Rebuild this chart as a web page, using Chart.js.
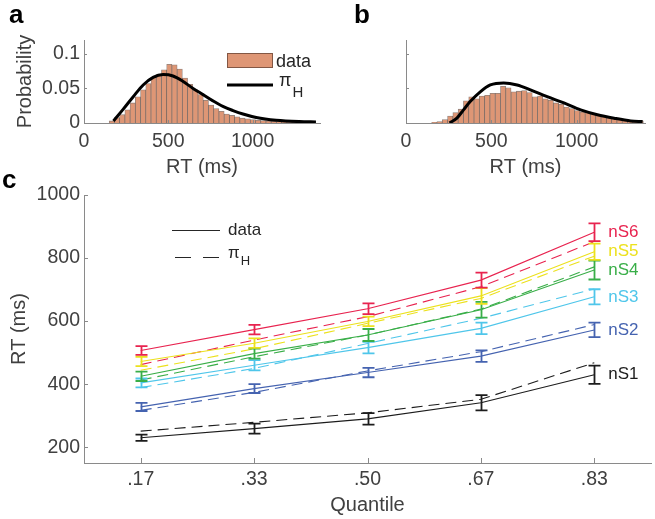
<!DOCTYPE html>
<html><head><meta charset="utf-8">
<script src="https://cdn.jsdelivr.net/npm/chart.js@4.4.1/dist/chart.umd.min.js"></script>
<style>
html,body{margin:0;padding:0;background:#fff;}
#wrap{position:relative;width:655px;height:519px;overflow:hidden;}
#wrap canvas{position:absolute;left:0;top:0;}
</style></head><body>
<div id="wrap">
<canvas id="ca" width="655" height="519"></canvas>
<canvas id="cb" width="655" height="519"></canvas>
<canvas id="cc" width="655" height="519"></canvas>
</div>
<script>
// ---------- DATA ----------
// Panel a: histogram (bin centres in ms, probability) and model density pi_H
const binCentersA = [165,196,227,258,289,320,351,382,413,444,475,506,537,568,599,630,661,692,723,754,785,816,847,878,909,940,971,1002,1033,1064,1095,1126,1157,1188,1219,1250,1281,1312,1343];
const probA = [0.003,0.008,0.012,0.019,0.029,0.038,0.048,0.057,0.066,0.070,0.077,0.085,0.084,0.078,0.065,0.056,0.048,0.041,0.033,0.026,0.021,0.017,0.013,0.011,0.009,0.007,0.006,0.005,0.004,0.0035,0.003,0.0025,0.002,0.0018,0.0015,0.0012,0.001,0.0009,0.0008];
const curveMsA = [175,233,292,351,410,469,528,588,647,706,765,824,884,943,1022,1140,1278,1376];
const curveProbA = [0.003,0.020,0.038,0.055,0.066,0.070,0.068,0.060,0.050,0.041,0.032,0.024,0.018,0.013,0.008,0.004,0.002,0.0015];
// Panel b
const binCentersB = [166,197,228,259,290,321,352,383,414,445,476,507,538,569,600,631,662,693,724,755,786,817,848,879,910,941,972,1003,1034,1065,1096,1127,1158,1189,1220,1251,1282,1313,1344,1375];
const probB = [0.001,0.002,0.005,0.010,0.015,0.020,0.032,0.038,0.035,0.039,0.040,0.043,0.043,0.053,0.051,0.045,0.046,0.047,0.044,0.038,0.039,0.035,0.033,0.029,0.027,0.023,0.021,0.018,0.016,0.015,0.013,0.011,0.010,0.008,0.007,0.006,0.005,0.004,0.003,0.003];
const curveMsB = [255,298,337,376,435,494,572,651,729,827,925,1023,1121,1219,1317,1386];
const curveProbB = [0.000,0.007,0.019,0.031,0.045,0.055,0.058,0.055,0.048,0.038,0.029,0.019,0.012,0.007,0.003,0.002];
const rtTicks = [0,500,1000];
const probTicks = [0,0.05,0.1];
// Panel c
const quantiles = ['.17','.33','.50','.67','.83'];
const rtTicksC = [200,400,600,800,1000];
const seriesNames = ['nS1','nS2','nS3','nS4','nS5','nS6'];
const seriesColors = ['#1c1c1c','#4563b0','#4fc6ea','#39ae48','#ece11d','#e8234f'];
const dataNS1 = [230,259,290,341,430];
const modelNS1 = [251,279,309,352,468];
const errNS1 = [10,16,18,24,29];
const dataNS2 = [328,386,437,489,572];
const modelNS2 = [317,374,442,503,589];
const errNS2 = [13,14,15,18,23];
const dataNS3 = [404,460,516,577,677];
const modelNS3 = [389,450,529,609,702];
const errNS3 = [14,16,18,18,24];
const dataNS4 = [425,497,556,636,762];
const modelNS4 = [413,487,556,638,772];
const errNS4 = [15,16,19,25,30];
const dataNS5 = [472,530,599,680,820];
const modelNS5 = [444,512,593,672,806];
const errNS5 = [15,15,15,25,26];
const dataNS6 = [507,573,639,730,882];
const modelNS6 = [462,540,614,709,852];
const errNS6 = [14,15,17,24,28];

// ---------- STYLE ----------
const FONT = '"Liberation Sans", Arial, Helvetica, sans-serif';
const AXIS = '#8a8a8a';
const TXT = '#404040';
const HIST_FILL = 'rgb(222,150,117)';
const HIST_EDGE = 'rgba(70,45,35,0.6)';
Chart.defaults.font.family = FONT;
Chart.defaults.color = TXT;
Chart.defaults.animation = false;
Chart.defaults.plugins.legend.display = false;
Chart.defaults.plugins.tooltip.enabled = false;

const inwardTicks = {
  id: 'inwardTicks',
  afterDraw(chart, args, opts) {
    const ctx = chart.ctx, x = chart.scales.x, y = chart.scales.y;
    ctx.save(); ctx.strokeStyle = AXIS; ctx.lineWidth = 1;
    y.ticks.forEach((t, i) => {
      const py = Math.round(y.getPixelForTick(i)) + 0.5;
      ctx.beginPath(); ctx.moveTo(y.right, py); ctx.lineTo(y.right + opts.ylen, py); ctx.stroke();
    });
    x.ticks.forEach((t, i) => {
      const px = Math.round(x.getPixelForTick(i)) + 0.5;
      ctx.beginPath(); ctx.moveTo(px, x.top); ctx.lineTo(px, x.top - opts.xlen); ctx.stroke();
    });
    ctx.restore();
  }
};

function axisOpts(extra) {
  return Object.assign({
    grid: {display: false, drawTicks: false},
    border: {display: true, color: AXIS, width: 1}
  }, extra);
}

function piH(ctx, x, yBase, size, subSize, subDrop) {
  ctx.font = size + 'px ' + FONT;
  ctx.textBaseline = 'alphabetic'; ctx.textAlign = 'left';
  ctx.fillText('\u03C0', x, yBase);
  const w = ctx.measureText('\u03C0').width;
  ctx.font = subSize + 'px ' + FONT;
  ctx.fillText('H', x + w + 1, yBase + subDrop);
}

const decorA = {
  id: 'decorA',
  afterDraw(chart) {
    const ctx = chart.ctx;
    ctx.save();
    // panel letters
    ctx.fillStyle = '#000'; ctx.font = 'bold 26px ' + FONT; ctx.textBaseline = 'alphabetic'; ctx.textAlign = 'left';
    ctx.fillText('a', 9, 23);
    ctx.fillText('b', 354, 23);
    ctx.fillText('c', 2, 188);
    // legend
    ctx.fillStyle = HIST_FILL; ctx.fillRect(227, 53, 46, 15);
    ctx.strokeStyle = HIST_EDGE; ctx.lineWidth = 1; ctx.strokeRect(227.5, 53.5, 45, 14);
    ctx.fillStyle = '#262626'; ctx.font = '18px ' + FONT; ctx.textBaseline = 'middle';
    ctx.fillText('data', 276, 62);
    ctx.strokeStyle = '#000'; ctx.lineWidth = 3;
    ctx.beginPath(); ctx.moveTo(227, 85); ctx.lineTo(273, 85); ctx.stroke();
    ctx.fillStyle = '#262626';
    piH(ctx, 279, 86, 18, 15, 11);
    ctx.restore();
  }
};

function histChart(id, centers, probs, cx, cy, padding, showY) {
  return new Chart(document.getElementById(id), {
    data: {datasets: [
      {type: 'line', data: cx.map((v, i) => ({x: v, y: cy[i]})), borderColor: '#000', borderWidth: 3,
       pointRadius: 0, cubicInterpolationMode: 'monotone', order: 0},
      {type: 'bar', data: centers.map((v, i) => ({x: v, y: probs[i]})), backgroundColor: HIST_FILL,
       borderColor: HIST_EDGE, borderWidth: 0.8, borderSkipped: 'start', categoryPercentage: 1, barPercentage: 1, order: 1}
    ]},
    options: {
      responsive: false, maintainAspectRatio: false,
      layout: {padding: padding},
      scales: {
        x: axisOpts({type: 'linear', min: 0, max: 1400, offset: false,
          afterBuildTicks: s => { s.ticks = rtTicks.map(v => ({value: v})); },
          afterFit: s => { s.height = 58; },
          ticks: {font: {size: 19.5}, color: TXT, padding: 7, maxRotation: 0, autoSkip: false, callback: v => String(v)},
          title: {display: true, text: 'RT (ms)', font: {size: 20}, color: TXT, padding: {top: 0, bottom: 2}}}),
        y: axisOpts({type: 'linear', min: 0, max: 0.12,
          afterBuildTicks: s => { s.ticks = probTicks.map(v => ({value: v})); },
          afterFit: s => { s.width = showY ? 84 : 406; },
          ticks: {display: showY, font: {size: 19.5}, color: TXT, padding: 4, callback: v => String(v)},
          title: {display: showY, text: 'Probability', font: {size: 20}, color: TXT, padding: {top: 13, bottom: 0}}})
      },
      plugins: {inwardTicks: {xlen: 3, ylen: 3}}
    },
    plugins: showY ? [inwardTicks, decorA] : [inwardTicks]
  });
}

histChart('ca', binCentersA, probA, curveMsA, curveProbA, {left: 0, top: 40, right: 335, bottom: 338}, true);
histChart('cb', binCentersB, probB, curveMsB, curveProbB, {left: 0, top: 40, right: 10, bottom: 338}, false);

// ---------- Panel c ----------
const dataSets = [dataNS1, dataNS2, dataNS3, dataNS4, dataNS5, dataNS6];
const modelSets = [modelNS1, modelNS2, modelNS3, modelNS4, modelNS5, modelNS6];
const errSets = [errNS1, errNS2, errNS3, errNS4, errNS5, errNS6];
const cDatasets = [];
seriesNames.forEach((name, i) => {
  cDatasets.push({label: name + ' model', data: modelSets[i], borderColor: seriesColors[i], borderWidth: 1.1,
    borderDash: [11, 6], pointRadius: 0, tension: 0, fill: false});
  cDatasets.push({label: name, data: dataSets[i], errors: errSets[i], seriesLabel: name, borderColor: seriesColors[i],
    borderWidth: 1.1, pointRadius: 0, tension: 0, fill: false});
});

const errorBars = {
  id: 'errorBars',
  afterDatasetsDraw(chart) {
    const ctx = chart.ctx, x = chart.scales.x, y = chart.scales.y;
    ctx.save();
    chart.data.datasets.forEach(ds => {
      if (!ds.errors) return;
      ctx.strokeStyle = ds.borderColor; ctx.lineWidth = 1.8;
      ds.data.forEach((v, j) => {
        const px = Math.round(x.getPixelForValue(j)) + 0.5;
        const t = y.getPixelForValue(v + ds.errors[j]);
        const b = y.getPixelForValue(v - ds.errors[j]);
        ctx.beginPath();
        ctx.moveTo(px, t); ctx.lineTo(px, b);
        ctx.moveTo(px - 6, t); ctx.lineTo(px + 6, t);
        ctx.moveTo(px - 6, b); ctx.lineTo(px + 6, b);
        ctx.stroke();
      });
      // series label next to the last quantile
      const last = ds.data.length - 1;
      ctx.fillStyle = ds.borderColor; ctx.font = '17px ' + FONT;
      ctx.textAlign = 'left'; ctx.textBaseline = 'middle';
      ctx.fillText(ds.seriesLabel, x.getPixelForValue(last) + 14, y.getPixelForValue(ds.data[last]));
    });
    // legend
    ctx.strokeStyle = '#262626'; ctx.lineWidth = 1;
    ctx.beginPath(); ctx.moveTo(172, 230.5); ctx.lineTo(220, 230.5); ctx.stroke();
    ctx.setLineDash([16, 12]);
    ctx.beginPath(); ctx.moveTo(175, 257.5); ctx.lineTo(220, 257.5); ctx.stroke();
    ctx.setLineDash([]);
    ctx.fillStyle = '#262626'; ctx.font = '17px ' + FONT; ctx.textBaseline = 'middle'; ctx.textAlign = 'left';
    ctx.fillText('data', 228, 230);
    piH(ctx, 228, 258, 17, 13, 7);
    ctx.restore();
  }
};

new Chart(document.getElementById('cc'), {
  type: 'line',
  data: {labels: quantiles, datasets: cDatasets},
  options: {
    responsive: false, maintainAspectRatio: false,
    layout: {padding: {left: 0, top: 195, right: 4, bottom: 0}},
    scales: {
      x: axisOpts({type: 'category', offset: true,
        afterFit: s => { s.height = 56; },
        ticks: {font: {size: 19.5}, color: TXT, padding: 5, maxRotation: 0, autoSkip: false},
        title: {display: true, text: 'Quantile', font: {size: 20}, color: TXT, padding: {top: 0, bottom: 2}}}),
      y: axisOpts({type: 'linear', min: 150, max: 1000,
        afterBuildTicks: s => { s.ticks = rtTicksC.map(v => ({value: v})); },
        afterFit: s => { s.width = 84; },
        ticks: {font: {size: 19.5}, color: TXT, padding: 4, callback: v => String(v)},
        title: {display: true, text: 'RT (ms)', font: {size: 20}, color: TXT, padding: {top: 7, bottom: 0}}})
    },
    plugins: {inwardTicks: {xlen: 5, ylen: 4}}
  },
  plugins: [inwardTicks, errorBars]
});
</script>
</body></html>
